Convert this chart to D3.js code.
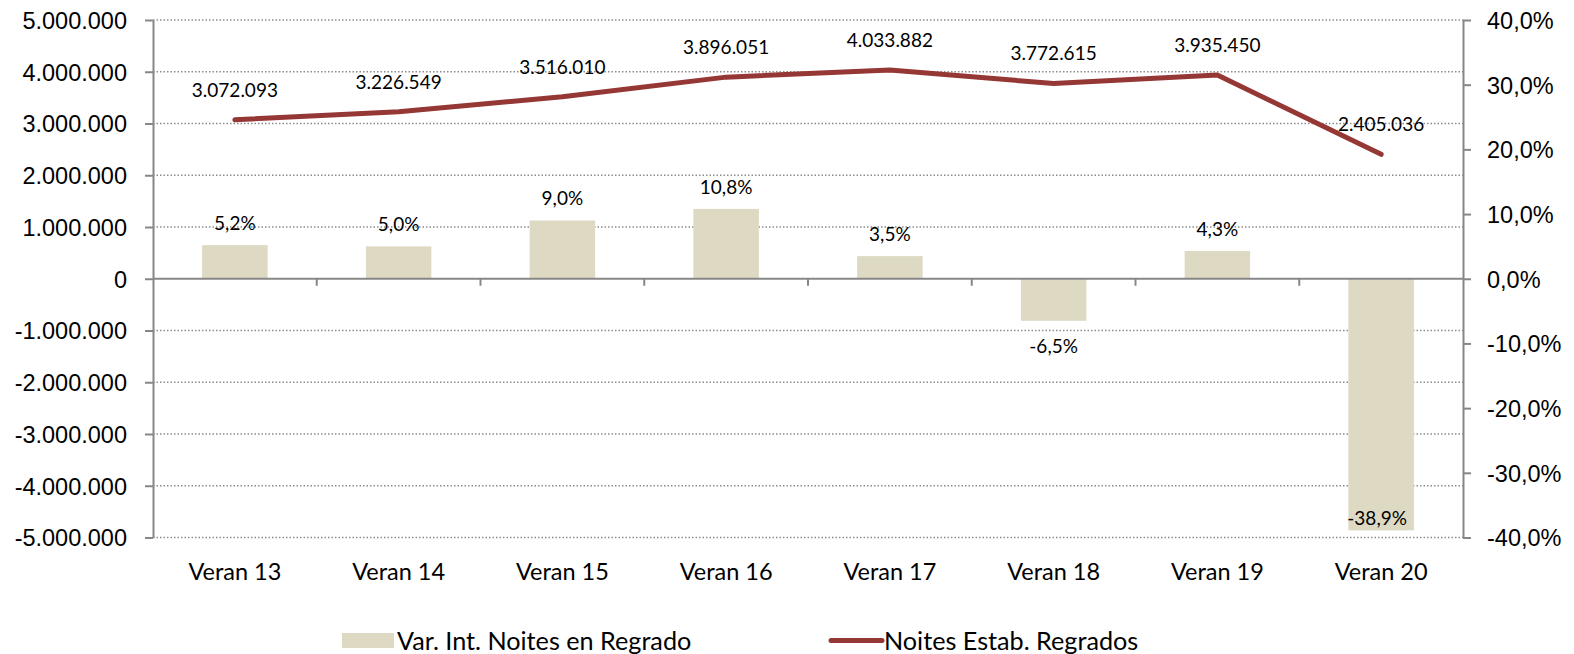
<!DOCTYPE html>
<html>
<head>
<meta charset="utf-8">
<script src="https://cdn.jsdelivr.net/npm/d3@7"></script>
<style>
  body { margin: 0; background: #fff; }
  svg { font-family: Lato, "Open Sans", sans-serif; }
  .axis text { fill: #000; font-size: 23.5px; }
  .axis path, .axis line { stroke: #878787; stroke-width: 2; }
  .grid { stroke: #8c8c8c; stroke-width: 1.5; stroke-dasharray: 1.5 2; }
  .label { fill: #000; font-size: 19px; }
  .legend text { fill: #000; font-size: 25.2px; }
</style>
</head>
<body>
<div id="chart"></div>
<script>
// Data
const categories = ['Veran 13', 'Veran 14', 'Veran 15', 'Veran 16', 'Veran 17', 'Veran 18', 'Veran 19', 'Veran 20'];
const nightsValues = [3072093, 3226549, 3516010, 3896051, 4033882, 3772615, 3935450, 2405036];   // line, left axis
const variationValues = [0.052, 0.050, 0.090, 0.108, 0.035, -0.065, 0.043, -0.389];               // bars, right axis
const leftTicks = [-5000000, -4000000, -3000000, -2000000, -1000000, 0, 1000000, 2000000, 3000000, 4000000, 5000000];
const rightTicks = [-0.4, -0.3, -0.2, -0.1, 0, 0.1, 0.2, 0.3, 0.4];
const seriesNames = ['Var. Int. Noites en Regrado', 'Noites Estab. Regrados'];

const width = 1574, height = 654;
const margin = {top: 20, right: 111, bottom: 116.5, left: 153};
const barColor = '#DDD9C3';
const lineColor = '#953735';

const locale = d3.formatLocale({decimal: ',', thousands: '.', grouping: [3], currency: ['', ''], minus: '-'});
const fmtNum = locale.format(',.0f');
const fmtPct = locale.format('.1%');

const svg = d3.select('#chart').append('svg')
    .attr('width', width)
    .attr('height', height);

const plotW = width - margin.left - margin.right;
const plotH = height - margin.top - margin.bottom;

const chart = svg.append('g')
    .attr('transform', `translate(${margin.left}, ${margin.top})`);

// Scales
const xScale = d3.scaleBand()
    .domain(categories)
    .range([0, plotW])
    .paddingInner(0.6)
    .paddingOuter(0.3);

const yLeft = d3.scaleLinear().domain([-5000000, 5000000]).range([plotH, 0]);
const yRight = d3.scaleLinear().domain([-0.4, 0.4]).range([plotH, 0]);

const step = xScale.step();
const cx = d => xScale(d) + xScale.bandwidth() / 2;

// Gridlines (dotted, left axis values)
chart.append('g').selectAll('line')
    .data(leftTicks.filter(d => d !== 0))
    .join('line')
    .attr('class', 'grid')
    .attr('x1', 0).attr('x2', plotW)
    .attr('y1', d => yLeft(d)).attr('y2', d => yLeft(d));

// Bars
chart.append('g').selectAll('rect')
    .data(variationValues)
    .join('rect')
    .attr('x', (d, i) => xScale(categories[i]))
    .attr('width', xScale.bandwidth())
    .attr('y', d => yRight(Math.max(0, d)))
    .attr('height', d => Math.abs(yRight(d) - yRight(0)))
    .attr('fill', barColor);

// Zero line with category separators
const zeroY = yLeft(0);
const xAxisG = chart.append('g').attr('class', 'axis');
xAxisG.append('line')
    .attr('x1', 0).attr('x2', plotW)
    .attr('y1', zeroY).attr('y2', zeroY);
xAxisG.selectAll('.sep')
    .data(categories.slice(1))
    .join('line')
    .attr('class', 'sep')
    .attr('x1', d => xScale(d) - step * 0.3)
    .attr('x2', d => xScale(d) - step * 0.3)
    .attr('y1', zeroY).attr('y2', zeroY + 7);

// Category labels below plot
xAxisG.selectAll('.cat')
    .data(categories)
    .join('text')
    .attr('class', 'cat')
    .attr('x', cx)
    .attr('y', plotH + 42.5)
    .attr('text-anchor', 'middle')
    .text(d => d);

// Left axis
const yAxisLeft = d3.axisLeft(yLeft)
    .tickValues(leftTicks)
    .tickFormat(fmtNum)
    .tickSize(8)
    .tickSizeOuter(0)
    .tickPadding(18);
chart.append('g').attr('class', 'axis').call(yAxisLeft)
    .selectAll('text').attr('dy', '0.36em');

// Right axis
const yAxisRight = d3.axisRight(yRight)
    .tickValues(rightTicks)
    .tickFormat(fmtPct)
    .tickSize(8)
    .tickSizeOuter(0)
    .tickPadding(16);
chart.append('g').attr('class', 'axis')
    .attr('transform', `translate(${plotW}, 0)`)
    .call(yAxisRight)
    .selectAll('text').attr('dy', '0.36em');

// Line
const lineGen = d3.line()
    .x((d, i) => cx(categories[i]))
    .y(d => yLeft(d));

chart.append('path')
    .datum(nightsValues)
    .attr('d', lineGen)
    .attr('fill', 'none')
    .attr('stroke', lineColor)
    .attr('stroke-width', 5)
    .attr('stroke-linejoin', 'round')
    .attr('stroke-linecap', 'round');

// Line labels
chart.append('g').selectAll('text')
    .data(nightsValues)
    .join('text')
    .attr('class', 'label')
    .attr('x', (d, i) => cx(categories[i]))
    .attr('y', d => yLeft(d) - 30)
    .attr('dy', '0.36em')
    .attr('text-anchor', 'middle')
    .text(fmtNum);

// Bar labels: outside end, or inside end when there is no room
chart.append('g').selectAll('text')
    .data(variationValues)
    .join('text')
    .attr('class', 'label')
    .attr('x', (d, i) => cx(categories[i]) - (yRight(d) + 25 > plotH ? 4 : 0))
    .attr('y', d => {
      const end = yRight(d);
      if (d >= 0) return end - 22;
      return end + 25 > plotH ? end - 12 : end + 25;
    })
    .attr('dy', '0.36em')
    .attr('text-anchor', 'middle')
    .text(fmtPct);

// Legend
const legend = svg.append('g').attr('class', 'legend');
legend.append('rect')
    .attr('x', 342).attr('y', 633)
    .attr('width', 52).attr('height', 15)
    .attr('fill', barColor);
legend.append('text')
    .attr('x', 397).attr('y', 640.5).attr('dy', '0.36em')
    .text(seriesNames[0]);
legend.append('line')
    .attr('x1', 831).attr('x2', 882)
    .attr('y1', 640.5).attr('y2', 640.5)
    .attr('stroke', lineColor)
    .attr('stroke-width', 5)
    .attr('stroke-linecap', 'round');
legend.append('text')
    .attr('x', 884).attr('y', 640.5).attr('dy', '0.36em')
    .text(seriesNames[1]);
</script>
</body>
</html>
